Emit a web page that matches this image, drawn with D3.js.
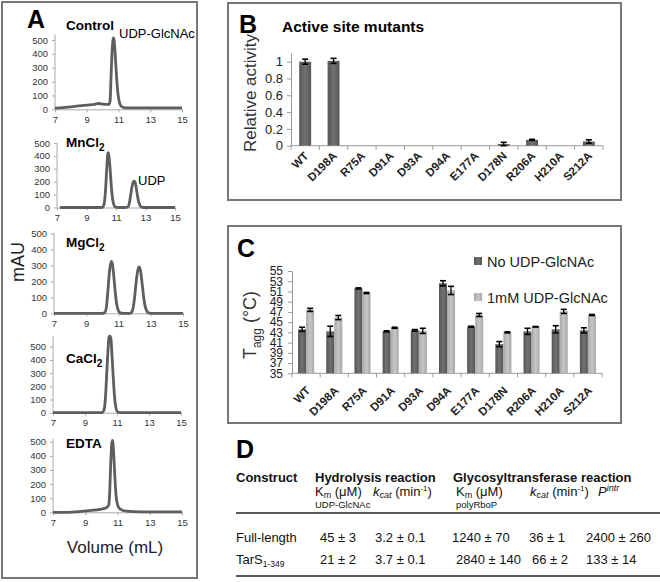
<!DOCTYPE html>
<html>
<head>
<meta charset="utf-8">
<script src="https://cdn.jsdelivr.net/npm/d3@7"></script>
<style>
  body { margin: 0; background: #fff; }
  svg { font-family: "Liberation Sans", Arial, sans-serif; }
</style>
</head>
<body>
<svg id="fig" width="660" height="582"></svg>
<script>
// ---------- data ----------
// panel A : chromatograms, [volume mL, mAU]
var volumeTicks = [7, 9, 11, 13, 15];
var mauTicks = [0, 100, 200, 300, 400, 500];

var controlTrace = [[7,8],[7.5,12],[8,18],[8.5,24],[9,30],[9.5,36],[9.75,42],[10,38],[10.2,35],[10.4,36],
  [10.47,60],[10.52,200],[10.58,380],[10.64,490],[10.68,515],[10.72,500],[10.76,450],[10.82,340],[10.9,200],
  [10.98,100],[11.06,50],[11.15,25],[11.3,14],[11.6,10],[12,10],[13,10],[14,10],[15,10]];
var mnTrace = [[7.2,0],[8,0],[9,0],[10,0],[10.1,4],[10.2,30],[10.3,150],[10.38,320],[10.46,425],[10.52,400],
  [10.6,300],[10.68,170],[10.78,60],[10.88,15],[11,2],[11.2,0],[11.6,0],[11.8,4],[11.9,30],[12,100],[12.1,170],
  [12.2,205],[12.28,200],[12.36,160],[12.46,90],[12.56,35],[12.68,8],[12.85,0],[14,0],[15,0]];
var mgTrace = [[7,0],[9,0],[10,0],[10.15,5],[10.25,40],[10.35,150],[10.45,270],[10.55,325],[10.62,310],[10.7,240],
  [10.8,130],[10.9,50],[11,15],[11.1,3],[11.3,0],[11.7,0],[11.8,5],[11.9,30],[12,100],[12.1,200],[12.2,270],
  [12.28,290],[12.36,270],[12.45,200],[12.55,110],[12.65,45],[12.75,15],[12.85,3],[13,0],[15,0]];
var caTrace = [[7,0],[9,0],[10,0],[10.1,3],[10.2,25],[10.28,120],[10.36,300],[10.44,480],[10.5,575],[10.56,580],
  [10.62,560],[10.68,450],[10.76,280],[10.84,130],[10.92,45],[11,12],[11.1,2],[11.3,0],[13,0],[15,0]];
var edtaTrace = [[7,0],[8,0],[8.5,4],[9,10],[9.5,15],[10,22],[10.3,32],[10.45,50],[10.52,150],[10.58,350],
  [10.64,480],[10.68,510],[10.72,490],[10.78,380],[10.85,220],[10.92,110],[11,55],[11.1,30],[11.3,15],
  [11.6,8],[12,5],[13,3],[15,3]];

// panel B : relative activity
var mutants = ["WT","D198A","R75A","D91A","D93A","D94A","E177A","D178N","R206A","H210A","S212A"];
var activity    = [1.00, 1.01, 0, 0, 0, 0, 0, 0.02, 0.07, 0, 0.05];
var activityErr = [0.03, 0.03, 0, 0, 0, 0, 0, 0.02, 0.006, 0, 0.02];
var activityTicks = [0, 0.2, 0.4, 0.6, 0.8, 1];

// panel C : Tagg
var taggNo      = [43.6, 43.2, 51.6, 43.2, 43.4, 52.6, 44.1, 40.7, 43.2, 43.6, 43.4];
var taggNoErr   = [0.4, 1.0, 0.1, 0.1, 0.15, 0.5, 0.1, 0.5, 0.6, 0.7, 0.5];
var taggWith    = [47.4, 45.9, 50.7, 43.9, 43.3, 51.2, 46.4, 43.0, 44.1, 47.1, 46.4];
var taggWithErr = [0.3, 0.4, 0.1, 0.1, 0.5, 0.8, 0.3, 0.1, 0.05, 0.4, 0.1];
var taggTicks = [35, 37, 39, 41, 43, 45, 47, 49, 51, 53, 55];
var seriesNames = ["No UDP-GlcNAc", "1mM UDP-GlcNAc"];

// panel D : kinetics table
var constructNames = ["Full-length", "TarS"];
var constructSubs  = ["", "1-349"];
var hydKm   = ["45 \u00b1 3", "21 \u00b1 2"];
var hydKcat = ["3.2 \u00b1 0.1", "3.7 \u00b1 0.1"];
var gtKm    = ["1240 \u00b1 70", "2840 \u00b1 140"];
var gtKcat  = ["36 \u00b1 1", "66 \u00b1 2"];
var pIntr   = ["2400 \u00b1 260", "133 \u00b1 14"];

var svg = d3.select("#fig");

// ---------- panel A ----------
svg.append("rect")
  .attr("x", 2).attr("y", 2).attr("width", 195).attr("height", 576)
  .attr("fill", "none").attr("stroke", "#777").attr("stroke-width", 2);

svg.append("text").attr("x", 27).attr("y", 28)
  .style("font-size", "25px").style("font-weight", "bold").text("A");

var panels = [
  {data: controlTrace, title: "Control", sub: "",  x0: 55, x1: 182, y0: 109.3, y5: 40,    top: 540, ty: 30},
  {data: mnTrace,      title: "MnCl",    sub: "2", x0: 57, x1: 175, y0: 207.5, y5: 143,   top: 500, ty: 147},
  {data: mgTrace,      title: "MgCl",    sub: "2", x0: 54, x1: 183, y0: 313.3, y5: 233.3, top: 500, ty: 247},
  {data: caTrace,      title: "CaCl",    sub: "2", x0: 53, x1: 181, y0: 412.7, y5: 346.7, top: 580, ty: 363},
  {data: edtaTrace,    title: "EDTA",    sub: "",  x0: 53, x1: 182, y0: 512.3, y5: 441.7, top: 520, ty: 448}
];

panels.forEach(function(p) {
  var x = d3.scaleLinear().domain([7, 15]).range([p.x0, p.x1]);
  var y = d3.scaleLinear().domain([0, 500]).range([p.y0, p.y5]);
  var yTop = y(p.top);

  var xa = svg.append("g")
    .attr("transform", "translate(0," + p.y0 + ")")
    .call(d3.axisBottom(x).tickValues(volumeTicks).tickSize(3).tickPadding(4).tickSizeOuter(0));
  var ya = svg.append("g")
    .attr("transform", "translate(" + p.x0 + ",0)")
    .call(d3.axisLeft(y).tickValues(mauTicks).tickSize(3).tickPadding(4).tickSizeOuter(0));
  ya.select(".domain").attr("d", "M0," + p.y0 + "V" + yTop);
  [xa, ya].forEach(function(a) {
    a.selectAll(".domain, line").attr("stroke", "#aaa");
    a.selectAll("text").style("font-size", "9.5px").style("font-family", "Liberation Sans, Arial")
      .attr("fill", "#333");
  });

  svg.append("path")
    .datum(p.data)
    .attr("fill", "none")
    .attr("stroke", "#5e5e5e")
    .attr("stroke-width", 2.8)
    .attr("stroke-linejoin", "round")
    .attr("d", d3.line().x(d => x(d[0])).y(d => y(d[1])).curve(d3.curveMonotoneX));

  var t = svg.append("text").attr("x", 66).attr("y", p.ty)
    .style("font-size", "13.5px").style("font-weight", "bold").text(p.title);
  if (p.sub) t.append("tspan").attr("dy", 4).style("font-size", "10px").text(p.sub);
});

svg.append("text").attr("x", 119).attr("y", 38).style("font-size", "13px").text("UDP-GlcNAc");
svg.append("text").attr("x", 138).attr("y", 185).style("font-size", "13px").text("UDP");

svg.append("text")
  .attr("transform", "translate(24,262) rotate(-90)")
  .attr("text-anchor", "middle")
  .style("font-size", "18px").attr("fill", "#222").text("mAU");
svg.append("text").attr("x", 115).attr("y", 553).attr("text-anchor", "middle")
  .style("font-size", "17px").attr("fill", "#222").text("Volume (mL)");

// shared gradients for bars
var defs = svg.append("defs");
function grad(id, c1, c2) {
  var g = defs.append("linearGradient").attr("id", id).attr("x1", 0).attr("x2", 1).attr("y1", 0).attr("y2", 0);
  g.append("stop").attr("offset", "0%").attr("stop-color", c1);
  g.append("stop").attr("offset", "50%").attr("stop-color", c2);
  g.append("stop").attr("offset", "100%").attr("stop-color", c1);
}
grad("gDark", "#555", "#727272");
grad("gLight", "#a8a8a8", "#c6c6c6");

function errBar(g, cx, yLo, yHi, w) {
  g.append("line").attr("x1", cx).attr("x2", cx).attr("y1", yLo).attr("y2", yHi)
    .attr("stroke", "#000").attr("stroke-width", 1.3);
  [yLo, yHi].forEach(function(yy) {
    g.append("line").attr("x1", cx - w / 2).attr("x2", cx + w / 2).attr("y1", yy).attr("y2", yy)
      .attr("stroke", "#000").attr("stroke-width", 1.6);
  });
}

function styleAxis(a, size) {
  a.selectAll(".domain, line").attr("stroke", "#999");
  a.selectAll("text").style("font-size", size).style("font-family", "Liberation Sans, Arial").attr("fill", "#222");
}

// ---------- panel B ----------
svg.append("rect")
  .attr("x", 228).attr("y", 3).attr("width", 393).attr("height", 197)
  .attr("fill", "none").attr("stroke", "#777").attr("stroke-width", 2);
svg.append("text").attr("x", 239).attr("y", 33)
  .style("font-size", "25px").style("font-weight", "bold").text("B");
svg.append("text").attr("x", 282).attr("y", 32)
  .style("font-size", "15.5px").style("font-weight", "bold").text("Active site mutants");

var xB = d3.scaleBand().domain(mutants).range([291, 603]).paddingInner(0.58).paddingOuter(0.29);
var yB = d3.scaleLinear().domain([0, 1.1]).range([145.7, 53.3]);

var yAxB = svg.append("g").attr("transform", "translate(291,0)")
  .call(d3.axisLeft(yB).tickValues(activityTicks).tickFormat(d3.format("~g")).tickSize(4).tickPadding(4).tickSizeOuter(0));
styleAxis(yAxB, "13px");

var gB = svg.append("g");
gB.append("line").attr("x1", 291).attr("x2", 603).attr("y1", yB(0)).attr("y2", yB(0)).attr("stroke", "#999");
d3.range(mutants.length + 1).forEach(function(i) {
  var xx = 291 + i * xB.step();
  gB.append("line").attr("x1", xx).attr("x2", xx).attr("y1", yB(0)).attr("y2", yB(0) + 4).attr("stroke", "#999");
});

gB.selectAll("rect.bar").data(mutants).enter().append("rect")
  .attr("class", "bar")
  .attr("x", d => xB(d))
  .attr("y", (d, i) => yB(activity[i]))
  .attr("width", xB.bandwidth())
  .attr("height", (d, i) => yB(0) - yB(activity[i]))
  .attr("fill", "url(#gDark)");

mutants.forEach(function(m, i) {
  if (activityErr[i] > 0) {
    var cx = xB(m) + xB.bandwidth() / 2;
    errBar(gB, cx, yB(activity[i] - activityErr[i]), yB(activity[i] + activityErr[i]), 6);
  }
});

gB.selectAll("text.lab").data(mutants).enter().append("text")
  .attr("class", "lab")
  .attr("transform", d => "translate(" + (xB(d) + xB.bandwidth() / 2 + 4) + "," + (yB(0) + 11) + ") rotate(-45)")
  .attr("text-anchor", "end")
  .style("font-size", "11.5px").style("font-weight", "bold").attr("fill", "#222")
  .text(d => d);

svg.append("text")
  .attr("transform", "translate(256,93) rotate(-90)")
  .attr("text-anchor", "middle")
  .style("font-size", "17px").attr("fill", "#333").text("Relative activity");

// ---------- panel C ----------
svg.append("rect")
  .attr("x", 228).attr("y", 226).attr("width", 393).attr("height", 197)
  .attr("fill", "none").attr("stroke", "#777").attr("stroke-width", 2);
svg.append("text").attr("x", 237).attr("y", 257)
  .style("font-size", "25px").style("font-weight", "bold").text("C");

var xC = d3.scaleBand().domain(mutants).range([292, 602]).paddingInner(0.43).paddingOuter(0.215);
var xC1 = d3.scaleBand().domain([0, 1]).range([0, xC.bandwidth()]);
var yC = d3.scaleLinear().domain([35, 55]).range([373.3, 271]);

var yAxC = svg.append("g").attr("transform", "translate(292,0)")
  .call(d3.axisLeft(yC).tickValues(taggTicks).tickSize(4).tickPadding(5).tickSizeOuter(0));
styleAxis(yAxC, "12px");

var gC = svg.append("g");
gC.append("line").attr("x1", 292).attr("x2", 602).attr("y1", yC(35)).attr("y2", yC(35)).attr("stroke", "#999");
d3.range(mutants.length + 1).forEach(function(i) {
  var xx = 292 + i * xC.step();
  gC.append("line").attr("x1", xx).attr("x2", xx).attr("y1", yC(35)).attr("y2", yC(35) + 4).attr("stroke", "#999");
});

var seriesC = [
  {vals: taggNo, errs: taggNoErr, fill: "url(#gDark)"},
  {vals: taggWith, errs: taggWithErr, fill: "url(#gLight)"}
];
seriesC.forEach(function(s, k) {
  gC.selectAll("rect.s" + k).data(mutants).enter().append("rect")
    .attr("class", "s" + k)
    .attr("x", d => xC(d) + xC1(k))
    .attr("y", (d, i) => yC(s.vals[i]))
    .attr("width", xC1.bandwidth())
    .attr("height", (d, i) => yC(35) - yC(s.vals[i]))
    .attr("fill", s.fill);
});
seriesC.forEach(function(s, k) {
  mutants.forEach(function(m, i) {
    var cx = xC(m) + xC1(k) + xC1.bandwidth() / 2;
    errBar(gC, cx, yC(s.vals[i] - s.errs[i]), yC(s.vals[i] + s.errs[i]), 6);
  });
});

gC.selectAll("text.lab").data(mutants).enter().append("text")
  .attr("class", "lab")
  .attr("transform", d => "translate(" + (xC(d) + xC.bandwidth() / 2 + 5) + "," + (yC(35) + 18) + ") rotate(-45)")
  .attr("text-anchor", "end")
  .style("font-size", "11.5px").style("font-weight", "bold").attr("fill", "#222")
  .text(d => d);

var yl = svg.append("text")
  .attr("transform", "translate(256,325) rotate(-90)")
  .attr("text-anchor", "middle")
  .style("font-size", "18px").attr("fill", "#333");
yl.append("tspan").text("T");
yl.append("tspan").attr("dy", 5).style("font-size", "12px").text("agg");
yl.append("tspan").attr("dy", -5).text(" (\u00b0C)");

var leg = svg.append("g");
seriesNames.forEach(function(n, k) {
  leg.append("rect").attr("x", 474).attr("y", 257 + k * 36).attr("width", 8).attr("height", 8)
    .attr("fill", seriesC[k].fill);
  leg.append("text").attr("x", 487).attr("y", 267 + k * 36)
    .style("font-size", "14.5px").attr("fill", "#222").text(n);
});

// ---------- panel D ----------
svg.append("text").attr("x", 236).attr("y", 458)
  .style("font-size", "25px").style("font-weight", "bold").text("D");

var gD = svg.append("g").style("font-size", "13px").attr("fill", "#111");
gD.append("text").attr("x", 236).attr("y", 482).style("font-weight", "bold").text("Construct");
gD.append("text").attr("x", 315).attr("y", 482).style("font-weight", "bold").text("Hydrolysis reaction");
gD.append("text").attr("x", 453).attr("y", 482).style("font-weight", "bold").text("Glycosyltransferase reaction");

function kmHead(x, below) {
  var t = gD.append("text").attr("x", x).attr("y", 496);
  t.append("tspan").text("K");
  t.append("tspan").attr("dy", 2).style("font-size", "9px").text("m");
  t.append("tspan").attr("dy", -2).text(" (\u03bcM)");
  gD.append("text").attr("x", x).attr("y", 508).style("font-size", "9.5px").text(below);
}
function kcatHead(x) {
  var t = gD.append("text").attr("x", x).attr("y", 496);
  t.append("tspan").style("font-style", "italic").text("k");
  t.append("tspan").attr("dy", 2).style("font-size", "9px").style("font-style", "italic").text("cat");
  t.append("tspan").attr("dy", -2).text(" (min");
  t.append("tspan").attr("dy", -5).style("font-size", "8px").text("-1");
  t.append("tspan").attr("dy", 5).text(")");
}
kmHead(315, "UDP-GlcNAc");
kcatHead(373);
kmHead(456, "polyRboP");
kcatHead(530);
var pt = gD.append("text").attr("x", 598).attr("y", 496).style("font-style", "italic");
pt.append("tspan").text("P");
pt.append("tspan").attr("dy", -5).style("font-size", "9px").text("intr");

gD.append("line").attr("x1", 236).attr("x2", 660).attr("y1", 513).attr("y2", 513)
  .attr("stroke", "#222").attr("stroke-width", 1.6);
gD.append("line").attr("x1", 236).attr("x2", 660).attr("y1", 576).attr("y2", 576)
  .attr("stroke", "#222").attr("stroke-width", 1.6);

var rowY = [542, 564];
var colX = [[320, 320], [375, 375], [452, 456], [529, 532], [586, 586]];
var cols = [hydKm, hydKcat, gtKm, gtKcat, pIntr];
constructNames.forEach(function(c, r) {
  var t = gD.append("text").attr("x", 236).attr("y", rowY[r]).text(c);
  if (constructSubs[r]) t.append("tspan").attr("dy", 3).style("font-size", "8.5px").text(constructSubs[r]);
  cols.forEach(function(col, j) {
    gD.append("text").attr("x", colX[j][r]).attr("y", rowY[r]).text(col[r]);
  });
});
</script>
</body>
</html>
